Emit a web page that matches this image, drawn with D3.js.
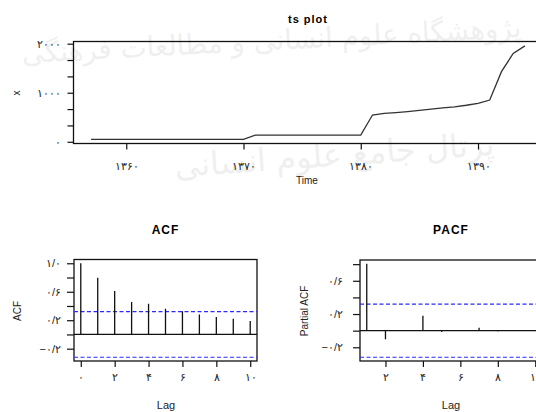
<!DOCTYPE html>
<head>
<meta charset="utf-8">
<script src="https://cdn.jsdelivr.net/npm/d3@7"></script>
<style>
body { margin: 0; background: #fff; }
svg { display: block; font-family: "DejaVu Sans", Arial, sans-serif; }
.tick-label { font-size: 11px; letter-spacing: 1.2px; fill: #222; }
.title { font-family: "Liberation Sans", Arial, sans-serif; font-weight: bold; font-size: 11px; letter-spacing: 1px; text-anchor: middle; }
.axis-title { font-family: "Liberation Sans", Arial, sans-serif; font-size: 10px; text-anchor: middle; fill: #222; }
.watermark { font-family: "DejaVu Sans", sans-serif; fill: #000; opacity: 0.06; text-anchor: middle; }
</style>
</head>
<body>
<svg id="chart" width="536" height="412"></svg>
<script>
// series, one value per year
var years = d3.range(1357, 1395);
var values = [50, 50, 50, 50, 50, 50, 50, 50, 50, 50, 50, 50, 50, 50,
              135, 135, 135, 135, 135, 135, 135, 135, 135, 135,
              546, 580, 595, 615, 640, 665, 690, 712, 745, 785, 852, 1430, 1800, 1955];
var tsTicks = [0, 333.3, 666.7, 1000, 1333.3, 1666.7, 2000];
var tsTickLabels = ["۰", "", "", "۱۰۰۰", "", "", "۲۰۰۰"];
var yearTicks = [1360, 1370, 1380, 1390];
var yearLabels = ["۱۳۶۰", "۱۳۷۰", "۱۳۸۰", "۱۳۹۰"];

var acfLags = [0, 1, 2, 3, 4, 5, 6, 7, 8, 9, 10];
var acfValues = [1.0, 0.795, 0.61, 0.455, 0.43, 0.36, 0.325, 0.28, 0.245, 0.22, 0.19];
var pacfLags = [1, 2, 3, 4, 5, 6, 7, 8, 9, 10];
var pacfValues = [0.805, -0.104, 0.004, 0.178, -0.015, 0.005, 0.036, -0.006, 0.004, -0.005];
var ciBound = 0.32;

var corTicks = [-0.2, 0, 0.2, 0.4, 0.6, 0.8, 1.0];
var corLabels = {"-0.2": "−۰/۲", "0.2": "۰/۲", "0.6": "۰/۶", "1": "۱/۰"};
var lagTicks = [0, 2, 4, 6, 8, 10];
var lagLabels = ["۰", "۲", "۴", "۶", "۸", "۱۰"];

var svg = d3.select("#chart");

// faint watermark behind the plots
svg.append("text").attr("class", "watermark").attr("x", 272).attr("y", 50)
    .attr("font-size", 28).attr("textLength", 500).attr("lengthAdjust", "spacingAndGlyphs")
    .attr("transform", "rotate(-3,272,50)")
    .text("پژوهشگاه علوم انسانی و مطالعات فرهنگی");
svg.append("text").attr("class", "watermark").attr("x", 335).attr("y", 166)
    .attr("font-size", 32).attr("transform", "rotate(-4,335,166)")
    .text("پرتال جامع علوم انسانی");

// ---------- ts plot ----------
var x = d3.scaleLinear().domain([1355.5, 1395.5]).range([73.5, 542.5]);
var y = d3.scaleLinear().domain([-35, 2045]).range([143.5, 41.5]);

svg.append("rect").attr("x", 73.5).attr("y", 41.5).attr("width", 469).attr("height", 102)
    .attr("fill", "none").attr("stroke", "#111").attr("stroke-width", 1.3);

var xAx = svg.append("g").attr("transform", "translate(0,143.5)")
    .call(d3.axisBottom(x).tickValues(yearTicks).tickSize(6).tickFormat((d, i) => yearLabels[i]));
var yAx = svg.append("g").attr("transform", "translate(73.5,0)")
    .call(d3.axisLeft(y).tickValues(tsTicks).tickSize(6).tickFormat((d, i) => tsTickLabels[i]));
[xAx, yAx].forEach(function (g) {
    g.select(".domain").remove();
    g.selectAll("line").attr("stroke", "#111").attr("stroke-width", 1.2);
    g.selectAll("text").attr("class", "tick-label").attr("font-size", null).attr("font-family", null);
});
xAx.selectAll("text").attr("dy", null).attr("y", 26);
yAx.selectAll("text").attr("x", -13);

svg.append("path").datum(years.map((d, i) => [d, values[i]]))
    .attr("fill", "none").attr("stroke", "#333").attr("stroke-width", 1.3)
    .attr("d", d3.line().x(d => x(d[0])).y(d => y(d[1])));

svg.append("text").attr("class", "title").attr("x", 308).attr("y", 23).text("ts plot");
svg.append("text").attr("class", "axis-title").attr("x", 307).attr("y", 184).text("Time");
svg.append("text").attr("class", "axis-title").attr("transform", "translate(20,93) rotate(-90)").text("x");

// ---------- correlogram panels ----------
function corPanel(opt) {
    var px = d3.scaleLinear().domain(opt.xDomain).range([opt.left, opt.right]);
    var py = d3.scaleLinear().domain(opt.yDomain).range([opt.bottom, opt.top]);
    var g = svg.append("g");
    var clipId = "clip" + opt.left;
    g.append("clipPath").attr("id", clipId).append("rect")
        .attr("x", opt.left).attr("y", opt.top).attr("width", opt.right - opt.left).attr("height", opt.bottom - opt.top);

    g.append("rect").attr("x", opt.left).attr("y", opt.top)
        .attr("width", opt.right - opt.left).attr("height", opt.bottom - opt.top)
        .attr("fill", "none").attr("stroke", "#111").attr("stroke-width", 1.3);

    var inner = g.append("g").attr("clip-path", "url(#" + clipId + ")");
    inner.append("line").attr("x1", opt.left).attr("x2", opt.right)
        .attr("y1", py(0)).attr("y2", py(0)).attr("stroke", "#111").attr("stroke-width", 1.2);
    inner.selectAll("line.ci").data([ciBound, -ciBound]).enter().append("line").attr("class", "ci")
        .attr("x1", opt.left).attr("x2", opt.right)
        .attr("y1", d => py(d)).attr("y2", d => py(d))
        .attr("stroke", "#2a2aff").attr("stroke-width", 1.2).attr("stroke-dasharray", "4,2.5");
    inner.selectAll("line.spike").data(opt.lags).enter().append("line").attr("class", "spike")
        .attr("x1", d => px(d)).attr("x2", d => px(d))
        .attr("y1", py(0)).attr("y2", (d, i) => py(opt.values[i]))
        .attr("stroke", "#111").attr("stroke-width", 1.3);

    var ax = g.append("g").attr("transform", "translate(0," + opt.bottom + ")")
        .call(d3.axisBottom(px).tickValues(opt.xTicks).tickSize(6)
            .tickFormat(d => lagLabels[lagTicks.indexOf(d)]));
    var ay = g.append("g").attr("transform", "translate(" + opt.left + ",0)")
        .call(d3.axisLeft(py).tickValues(opt.yTicks).tickSize(7)
            .tickFormat(d => corLabels[String(Math.round(d * 10) / 10)] || ""));
    [ax, ay].forEach(function (a) {
        a.select(".domain").remove();
        a.selectAll("line").attr("stroke", "#111").attr("stroke-width", 1.2);
        a.selectAll("text").attr("class", "tick-label").attr("font-size", null).attr("font-family", null);
    });
    ax.selectAll("text").attr("dy", null).attr("y", 20);
    ay.selectAll("text").attr("x", opt.labelGap);

    g.append("text").attr("class", "title").attr("x", (opt.left + opt.right) / 2)
        .attr("y", 234).style("font-size", "12px").text(opt.title);
    g.append("text").attr("class", "axis-title").attr("x", opt.titleX).attr("y", 409)
        .style("font-size", "11px").text("Lag");
    g.append("text").attr("class", "axis-title")
        .attr("transform", "translate(" + opt.yLabelX + ",311) rotate(-90)").text(opt.yLabel);
}

corPanel({
    title: "ACF", yLabel: "ACF", yLabelX: 21, titleX: 166,
    lags: acfLags, values: acfValues,
    xDomain: [-0.4, 10.4], left: 74, right: 257,
    yDomain: [-0.373, 1.053], top: 259.5, bottom: 361,
    xTicks: lagTicks, yTicks: corTicks, labelGap: -13
});

corPanel({
    title: "PACF", yLabel: "Partial ACF", yLabelX: 308, titleX: 451,
    lags: pacfLags, values: pacfValues,
    xDomain: [0.64, 10.36], left: 360, right: 542,
    yDomain: [-0.365, 0.85], top: 260, bottom: 361,
    xTicks: [2, 4, 6, 8, 10], yTicks: corTicks.filter(d => d < 0.9), labelGap: -17
});
</script>
</body>
</html>
